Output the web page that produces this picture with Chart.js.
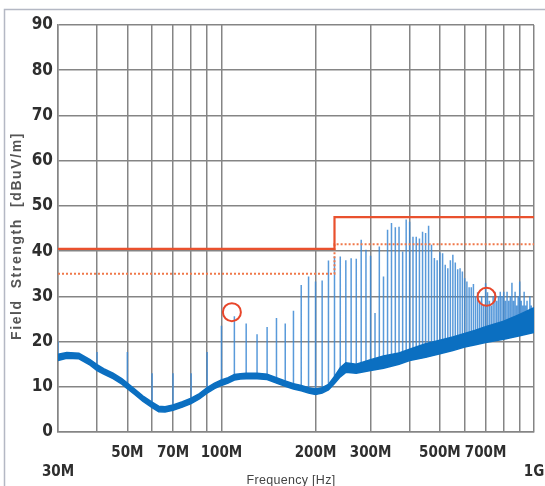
<!DOCTYPE html>
<html><head><meta charset="utf-8">
<script src="https://cdn.jsdelivr.net/npm/chart.js@4.4.1/dist/chart.umd.min.js"></script>
<style>html,body{margin:0;padding:0;background:#fff;overflow:hidden}
#wrap{position:relative;width:545px;height:486px}</style>
</head><body><div id="wrap"><canvas id="c" width="545" height="486"></canvas></div>
<script>
// ---- data (MHz, dBuV/m) ----
const xTicksMHz = [30,40,50,60,70,80,90,100,200,300,400,500,600,700,800,900,1000];
const xTickLabels = {30:['','30M'],50:'50M',70:'70M',100:'100M',200:'200M',300:'300M',500:'500M',700:'700M',1000:['','1G']};
const yTicks = [0,10,20,30,40,50,60,70,80,90];
const yTitle = 'Field  Strength  [dBuV/m]';
const xTitle = 'Frequency [Hz]';

const limitFreq = [30,230,230,1000];
const limitQP   = [40.5,40.5,47.5,47.5];
const limitAvg  = [35,35,41.5,41.5];

const floorFreq = [30,32,35,38,40,42,45,48,50,53,56,60,63,66,70,75,80,85,90,95,100,105,110,115,120,130,140,150,160,170,180,190,200,210,220,230,240,250,270,300,330,370,400,450,500,550,600,650,700,800,900,1000];
const floorLow  = [15.8,16.3,16.2,14.8,13.6,12.8,11.8,10.6,9.6,8.2,6.8,5.4,4.5,4.4,4.8,5.5,6.3,7.3,8.6,9.6,10.3,10.8,11.5,11.7,11.8,11.8,11.6,10.8,10.1,9.5,9.1,8.6,8.3,8.6,9.3,10.7,12.2,13.2,13,13.6,14.1,15,15.8,16.5,17.3,18,18.8,19.3,19.8,20.5,21.3,22];
const floorHigh = [17.2,17.6,17.4,16,14.9,14,13,11.8,10.8,9.4,8,6.6,5.7,5.6,6,6.7,7.5,8.5,9.8,10.8,11.5,12,12.7,12.9,13,13,12.8,12,11.3,10.7,10.3,9.8,9.5,9.8,10.5,12.3,14.2,15.3,15,16,16.8,17.5,18.3,19.5,20.3,21,21.8,22.5,23.3,24.5,26,27.5];

const spikeFreq = [30,40,50,60,70,80,90,100,110,120,130,140,150,160,170,180,190,200,210,220,230,240,250,260,270,280,290,300,310,320,330,340,350,360,370,380,390,400,410,420,430,440,450,460,470,480,490,500,510,520,530,540,550,560,570,580,590,600,610,620,630,640,650,660,670,680,690,700,710,720,730,740,750,760,770,780,790,800,810,820,830,840,850,860,870,880,890,900,910,920,930,940,950,960,970,980,990,1000];
const spikePeak = [20,17.7,17.7,13,13,13,17.7,23.5,25.6,24,21.6,23.2,25.2,24,26.8,32.5,34.4,33.3,33.5,37.9,38.8,38.8,38,38.4,38.3,42.5,40.3,39,26.3,41,34.4,44.7,46.2,45.3,45.4,39.9,47,46.5,43.2,43.2,42.8,44.3,44,45.6,41.4,38.5,38,39.7,39.5,37,36.2,38,39.2,37.5,36,36.2,35.5,34,33.3,32,32,32.7,30,30.9,29,30,28,32.9,30.9,29,28,30,31,29,30,31,30,31,29,31,29,30,33,29,31,28,30,33.3,29,28,31,28,29,27,30,28,27,26];

const markerFreq  = [108,705];
const markerLevel = [26.5,29.9];

// ---- build ----
function floorBaseAt(f){
  // start each spike inside the floor band: middle of the nearest floor reading
  let best = 0, bd = Infinity;
  floorFreq.forEach((ff,i)=>{ const d=Math.abs(Math.log(ff/f)); if(d<bd){bd=d;best=i;} });
  return (floorLow[best]+floorHigh[best])/2;
}
const spikeData = [];
spikeFreq.forEach((f,i)=>{
  spikeData.push({x:f,y:floorBaseAt(f)});
  spikeData.push({x:f,y:spikePeak[i]});
  spikeData.push({x:f,y:null});
});
const pts = (xs,ys)=>xs.map((x,i)=>({x:x,y:ys[i]}));

const FONT = '"DejaVu Sans","Liberation Sans",sans-serif';
const GRID = '#858585';

const framePlugin = {
  id:'frame',
  beforeDraw(chart){
    const ctx = chart.ctx;
    ctx.save();
    ctx.fillStyle='#fff'; ctx.fillRect(0,0,chart.width,chart.height);
    ctx.strokeStyle='#b4b8c4'; ctx.lineWidth=1.5;
    ctx.strokeRect(4.5,9.5,700,700);
    ctx.restore();
  },
  afterDraw(chart){
    const ctx = chart.ctx, a = chart.chartArea;
    ctx.save();
    // y axis title (rotated, letter-spaced)
    ctx.translate(17.5, 236);
    ctx.rotate(-Math.PI/2);
    ctx.font = 'bold 14px "Liberation Sans", Arial, sans-serif';
    try { ctx.letterSpacing = '1.6px'; } catch(e){}
    ctx.fillStyle = '#555';
    ctx.textAlign = 'center'; ctx.textBaseline = 'middle';
    ctx.fillText(yTitle, 0, 0);
    ctx.restore();
    ctx.save();
    try { ctx.letterSpacing = '0.3px'; } catch(e){}
    ctx.font = '12.5px "Liberation Sans", Arial, sans-serif';
    ctx.fillStyle = '#444';
    ctx.textAlign = 'center'; ctx.textBaseline = 'middle';
    ctx.fillText(xTitle, 291, 481);
    ctx.restore();
  }
};

new Chart(document.getElementById('c'),{
  type:'line',
  data:{datasets:[
    {type:'scatter',data:pts(markerFreq,markerLevel),pointRadius:9,pointBorderWidth:2,pointBorderColor:'#E8462A',pointBackgroundColor:'rgba(0,0,0,0)',showLine:false,order:0},
    {data:pts(limitFreq,limitQP),borderColor:'#E9512E',borderWidth:2.2,pointRadius:0,fill:false,order:1},
    {data:pts(limitFreq,limitAvg),borderColor:'#F0784A',borderWidth:2,borderDash:[2,2],pointRadius:0,fill:false,order:2},
    {data:pts(floorFreq,floorHigh),borderColor:'#0B6FC1',borderWidth:1.5,pointRadius:0,fill:'+1',backgroundColor:'#0B6FC1',order:3},
    {data:pts(floorFreq,floorLow),borderColor:'#0B6FC1',borderWidth:1.5,pointRadius:0,fill:false,order:4},
    {data:spikeData,borderColor:'rgba(60,136,212,0.85)',borderWidth:1.5,pointRadius:0,spanGaps:false,fill:false,order:5}
  ]},
  options:{
    responsive:false,animation:false,devicePixelRatio:1,
    layout:{padding:{top:25,right:7,bottom:0,left:0}},
    plugins:{legend:{display:false},tooltip:{enabled:false}},
    scales:{
      x:{type:'logarithmic',min:30,max:1000,
        afterBuildTicks:s=>{s.ticks=xTicksMHz.map(v=>({value:v}));},
        afterFit:s=>{s.height=54;s.paddingLeft=0;s.paddingRight=0;},
        ticks:{autoSkip:false,maxRotation:0,padding:11,color:'#2e2e2e',font:{family:FONT,size:15,weight:'bold condensed',lineHeight:1.3},
          callback:(v)=>xTickLabels[v]!==undefined?xTickLabels[v]:''},
        grid:{color:GRID,lineWidth:1.5,drawTicks:false},
        border:{color:GRID,width:1.5},
        title:{display:false}
      },
      y:{min:0,max:90,
        afterBuildTicks:s=>{s.ticks=yTicks.map(v=>({value:v}));},
        afterFit:s=>{s.width=58;},
        ticks:{padding:5,color:'#2e2e2e',font:{family:FONT,size:17,weight:'bold condensed'}},
        grid:{color:GRID,lineWidth:1.5,drawTicks:false},
        border:{color:GRID,width:1.5},
        title:{display:false}
      }
    }
  },
  plugins:[framePlugin]
});
</script></body></html>
